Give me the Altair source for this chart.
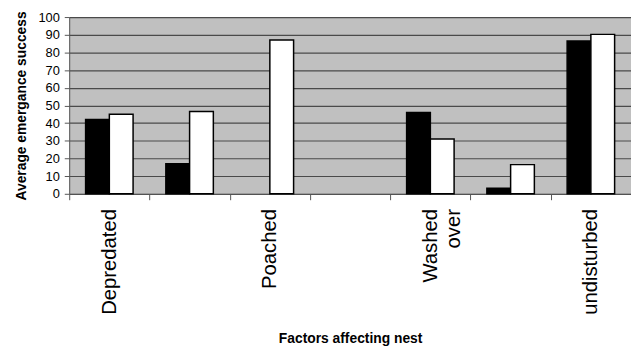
import altair as alt
import pandas as pd

# Categories along the x axis (every other label is hidden in the original)
categories = ["Depredated", " ", "Poached", "  ", "Washed over", "   ", "undisturbed"]
series_names = ["Series 1", "Series 2"]
black_values = [42, 17, None, None, 46, 3.2, 86.5]
white_values = [45, 46.5, 87, None, 31, 16.5, 90.2]
y_ticks = [0, 10, 20, 30, 40, 50, 60, 70, 80, 90, 100]

rows = []
for cat, b, w in zip(categories, black_values, white_values):
    if b is not None:
        rows.append({"factor": cat, "series": series_names[0], "value": b})
    if w is not None:
        rows.append({"factor": cat, "series": series_names[1], "value": w})
df = pd.DataFrame(rows)

FONT = "Liberation Sans"

chart = alt.Chart(df).mark_bar(stroke="black", strokeWidth=1.5).encode(
    x=alt.X(
        "factor:N",
        sort=categories,
        scale=alt.Scale(domain=categories, paddingInner=0, paddingOuter=0),
        axis=alt.Axis(
            title="Factors affecting nest",
            labelAngle=270,
            labelFont=FONT,
            labelFontSize=20.5,
            labelColor="black",
            labelPadding=9,
            labelOverlap=False,
            labelLineHeight=24,
            labelExpr="datum.label == 'Washed over' ? ['Washed', 'over'] : datum.label",
            tickBand="extent",
            tickSize=6,
            tickColor="#555555",
            domainColor="#555555",
            grid=False,
            titleFont=FONT,
            titleFontSize=14,
            titleFontWeight="bold",
            titleColor="black",
            titlePadding=17,
        ),
    ),
    xOffset=alt.XOffset(
        "series:N",
        sort=series_names,
        scale=alt.Scale(domain=series_names, paddingOuter=0.69, paddingInner=0),
    ),
    y=alt.Y(
        "value:Q",
        scale=alt.Scale(domain=[0, 100], nice=False),
        axis=alt.Axis(
            title="Average emergance success",
            values=y_ticks,
            grid=True,
            gridColor="#4a4a4a",
            gridWidth=1.2,
            labelFont=FONT,
            labelFontSize=13,
            labelColor="black",
            labelPadding=5,
            tickSize=5,
            tickColor="#555555",
            domainColor="#555555",
            titleFont=FONT,
            titleFontSize=14,
            titleFontWeight="bold",
            titleColor="black",
            titlePadding=10,
        ),
    ),
    color=alt.Color(
        "series:N",
        scale=alt.Scale(domain=series_names, range=["black", "white"]),
        legend=None,
    ),
).properties(
    width=569,
    height=179,
    padding={"left": 62, "top": 7, "right": 0, "bottom": 153},
    autosize=alt.AutoSizeParams(type="none"),
).configure_view(
    fill="#c0c0c0",
    stroke=None,
)

chart.save("out.html", embed_options={"renderer": "svg", "actions": False})
